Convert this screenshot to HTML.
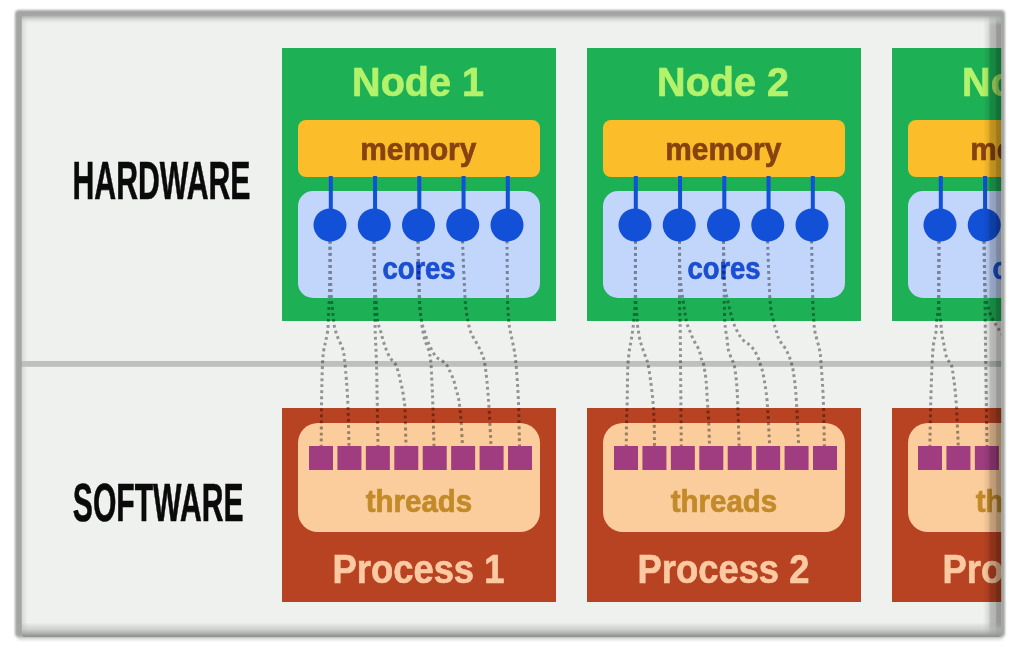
<!DOCTYPE html><html><head><meta charset="utf-8"><style>
html,body{margin:0;padding:0;background:#fff;width:1024px;height:654px;overflow:hidden}
svg{display:block;position:absolute;left:0;top:0}
text{font-family:"Liberation Sans",sans-serif;font-weight:bold}
</style></head><body>
<svg width="1024" height="654" viewBox="0 0 1024 654">
<defs><clipPath id="fc"><rect x="21.8" y="15" width="979.4" height="622" rx="3"/></clipPath>
<linearGradient id="rsh" x1="0" x2="1" y1="0" y2="0"><stop offset="0" stop-color="#000" stop-opacity="0"/><stop offset="0.3" stop-color="#000" stop-opacity="0.10"/><stop offset="0.4" stop-color="#000" stop-opacity="0.22"/><stop offset="0.68" stop-color="#000" stop-opacity="0.26"/><stop offset="0.74" stop-color="#000" stop-opacity="0.36"/><stop offset="1" stop-color="#000" stop-opacity="0.38"/></linearGradient>
<linearGradient id="tsh" x1="0" x2="0" y1="0" y2="1"><stop offset="0" stop-color="#a0a2a0"/><stop offset="1" stop-color="#eff1ee" stop-opacity="0"/></linearGradient><linearGradient id="lsh" x1="0" x2="1" y1="0" y2="0"><stop offset="0" stop-color="#d8dad8"/><stop offset="0.4" stop-color="#e2e4e2"/><stop offset="1" stop-color="#eff1ee" stop-opacity="0"/></linearGradient>
<linearGradient id="bsh" x1="0" x2="0" y1="0" y2="1"><stop offset="0" stop-color="#a8aaa8" stop-opacity="0"/><stop offset="0.45" stop-color="#b8bab8" stop-opacity="0.55"/><stop offset="0.92" stop-color="#949694"/><stop offset="1" stop-color="#8e908e"/></linearGradient>
</defs>
<filter id="bl" x="-5%" y="-5%" width="110%" height="110%"><feGaussianBlur stdDeviation="1.0"/></filter><filter id="bl2" x="-5%" y="-100%" width="110%" height="300%"><feGaussianBlur stdDeviation="1.5"/></filter>
<rect x="17" y="634" width="986" height="6" rx="3" fill="#d8dad8" filter="url(#bl2)"/>
<rect x="15" y="10" width="990" height="627" rx="4" fill="#a3a5a3" filter="url(#bl)"/>
<g clip-path="url(#fc)">
<rect x="15" y="10" width="990" height="627" fill="#eff1ee"/>
<rect x="21.8" y="10" width="7" height="627" fill="url(#lsh)"/>
<rect x="15" y="361" width="990" height="5.8" fill="#bec0bd"/>
<text x="72.5" y="199.4" font-size="54" textLength="178" lengthAdjust="spacingAndGlyphs" fill="#0a0a0a" stroke="#0a0a0a" stroke-width="0.6">HARDWARE</text>
<text x="72.8" y="520.6" font-size="54" textLength="170.7" lengthAdjust="spacingAndGlyphs" fill="#0a0a0a" stroke="#0a0a0a" stroke-width="0.6">SOFTWARE</text>
<rect x="282" y="48" width="274" height="273" fill="#1eb055"/>
<text x="418" y="96.4" font-size="41" textLength="131.8" lengthAdjust="spacingAndGlyphs" text-anchor="middle" fill="#b3f26a" stroke="#b3f26a" stroke-width="0.7">Node 1</text>
<rect x="298" y="120" width="242" height="57" rx="8" fill="#fbbe2a"/>
<text x="418.3" y="159.9" font-size="32" textLength="116.0" lengthAdjust="spacingAndGlyphs" text-anchor="middle" fill="#874212" stroke="#874212" stroke-width="0.7">memory</text>
<rect x="298" y="191" width="242" height="107" rx="15" fill="#c2d5fb"/>
<text x="419" y="278.7" font-size="31" textLength="73.2" lengthAdjust="spacingAndGlyphs" text-anchor="middle" fill="#1a4fd2" stroke="#1a4fd2" stroke-width="0.7">cores</text>
<rect x="328.80" y="176" width="4" height="36" fill="#1250d8"/>
<circle cx="330.00" cy="225" r="16.5" fill="#1250d8"/>
<rect x="373.05" y="176" width="4" height="36" fill="#1250d8"/>
<circle cx="374.25" cy="225" r="16.5" fill="#1250d8"/>
<rect x="417.30" y="176" width="4" height="36" fill="#1250d8"/>
<circle cx="418.50" cy="225" r="16.5" fill="#1250d8"/>
<rect x="461.55" y="176" width="4" height="36" fill="#1250d8"/>
<circle cx="462.75" cy="225" r="16.5" fill="#1250d8"/>
<rect x="505.80" y="176" width="4" height="36" fill="#1250d8"/>
<circle cx="507.00" cy="225" r="16.5" fill="#1250d8"/>
<rect x="282" y="408" width="274" height="194" fill="#b84322"/>
<rect x="298" y="423" width="242" height="109" rx="20" fill="#fbcd9d"/>
<text x="419" y="512.4" font-size="31" textLength="106.4" lengthAdjust="spacingAndGlyphs" text-anchor="middle" fill="#c28a28" stroke="#c28a28" stroke-width="0.7">threads</text>
<text x="418.5" y="583" font-size="41" textLength="171.8" lengthAdjust="spacingAndGlyphs" text-anchor="middle" fill="#fbcaa2" stroke="#fbcaa2" stroke-width="0.7">Process 1</text>
<rect x="587" y="48" width="274" height="273" fill="#1eb055"/>
<text x="723" y="96.4" font-size="41" textLength="131.8" lengthAdjust="spacingAndGlyphs" text-anchor="middle" fill="#b3f26a" stroke="#b3f26a" stroke-width="0.7">Node 2</text>
<rect x="603" y="120" width="242" height="57" rx="8" fill="#fbbe2a"/>
<text x="723.3" y="159.9" font-size="32" textLength="116.0" lengthAdjust="spacingAndGlyphs" text-anchor="middle" fill="#874212" stroke="#874212" stroke-width="0.7">memory</text>
<rect x="603" y="191" width="242" height="107" rx="15" fill="#c2d5fb"/>
<text x="724" y="278.7" font-size="31" textLength="73.2" lengthAdjust="spacingAndGlyphs" text-anchor="middle" fill="#1a4fd2" stroke="#1a4fd2" stroke-width="0.7">cores</text>
<rect x="633.80" y="176" width="4" height="36" fill="#1250d8"/>
<circle cx="635.00" cy="225" r="16.5" fill="#1250d8"/>
<rect x="678.05" y="176" width="4" height="36" fill="#1250d8"/>
<circle cx="679.25" cy="225" r="16.5" fill="#1250d8"/>
<rect x="722.30" y="176" width="4" height="36" fill="#1250d8"/>
<circle cx="723.50" cy="225" r="16.5" fill="#1250d8"/>
<rect x="766.55" y="176" width="4" height="36" fill="#1250d8"/>
<circle cx="767.75" cy="225" r="16.5" fill="#1250d8"/>
<rect x="810.80" y="176" width="4" height="36" fill="#1250d8"/>
<circle cx="812.00" cy="225" r="16.5" fill="#1250d8"/>
<rect x="587" y="408" width="274" height="194" fill="#b84322"/>
<rect x="603" y="423" width="242" height="109" rx="20" fill="#fbcd9d"/>
<text x="724" y="512.4" font-size="31" textLength="106.4" lengthAdjust="spacingAndGlyphs" text-anchor="middle" fill="#c28a28" stroke="#c28a28" stroke-width="0.7">threads</text>
<text x="723.5" y="583" font-size="41" textLength="171.8" lengthAdjust="spacingAndGlyphs" text-anchor="middle" fill="#fbcaa2" stroke="#fbcaa2" stroke-width="0.7">Process 2</text>
<rect x="892" y="48" width="274" height="273" fill="#1eb055"/>
<text x="1028" y="96.4" font-size="41" textLength="131.8" lengthAdjust="spacingAndGlyphs" text-anchor="middle" fill="#b3f26a" stroke="#b3f26a" stroke-width="0.7">Node 3</text>
<rect x="908" y="120" width="242" height="57" rx="8" fill="#fbbe2a"/>
<text x="1028.3" y="159.9" font-size="32" textLength="116.0" lengthAdjust="spacingAndGlyphs" text-anchor="middle" fill="#874212" stroke="#874212" stroke-width="0.7">memory</text>
<rect x="908" y="191" width="242" height="107" rx="15" fill="#c2d5fb"/>
<text x="1029" y="278.7" font-size="31" textLength="73.2" lengthAdjust="spacingAndGlyphs" text-anchor="middle" fill="#1a4fd2" stroke="#1a4fd2" stroke-width="0.7">cores</text>
<rect x="938.80" y="176" width="4" height="36" fill="#1250d8"/>
<circle cx="940.00" cy="225" r="16.5" fill="#1250d8"/>
<rect x="983.05" y="176" width="4" height="36" fill="#1250d8"/>
<circle cx="984.25" cy="225" r="16.5" fill="#1250d8"/>
<rect x="1027.30" y="176" width="4" height="36" fill="#1250d8"/>
<circle cx="1028.50" cy="225" r="16.5" fill="#1250d8"/>
<rect x="1071.55" y="176" width="4" height="36" fill="#1250d8"/>
<circle cx="1072.75" cy="225" r="16.5" fill="#1250d8"/>
<rect x="1115.80" y="176" width="4" height="36" fill="#1250d8"/>
<circle cx="1117.00" cy="225" r="16.5" fill="#1250d8"/>
<rect x="892" y="408" width="274" height="194" fill="#b84322"/>
<rect x="908" y="423" width="242" height="109" rx="20" fill="#fbcd9d"/>
<text x="1029" y="512.4" font-size="31" textLength="106.4" lengthAdjust="spacingAndGlyphs" text-anchor="middle" fill="#c28a28" stroke="#c28a28" stroke-width="0.7">threads</text>
<text x="1028.5" y="583" font-size="41" textLength="171.8" lengthAdjust="spacingAndGlyphs" text-anchor="middle" fill="#fbcaa2" stroke="#fbcaa2" stroke-width="0.7">Process 3</text>
<g fill="none" stroke="#9c9c9c" stroke-width="3" stroke-dasharray="2.8 3.2" style="mix-blend-mode:multiply">
<path d="M330.0 241.0 C329.9 249.2 329.8 276.7 329.5 290.0 C329.2 303.3 328.6 314.0 328.3 321.0 C328.0 328.0 328.0 328.5 327.5 332.0 C327.0 335.5 326.1 339.0 325.5 342.0 C324.9 345.0 324.3 346.3 323.8 350.0 C323.3 353.7 322.9 355.7 322.5 364.0 C322.1 372.3 321.8 386.3 321.6 400.0 C321.4 413.7 321.3 438.3 321.2 446.0"/>
<path d="M330.0 241.0 C330.2 249.2 330.4 276.7 331.0 290.0 C331.6 303.3 333.0 314.3 333.7 321.0 C334.4 327.7 334.6 327.2 335.3 330.0 C336.0 332.8 336.7 334.7 338.0 338.0 C339.3 341.3 341.8 345.7 343.0 350.0 C344.2 354.3 344.2 355.7 345.0 364.0 C345.8 372.3 347.0 386.3 347.7 400.0 C348.4 413.7 348.8 438.3 349.0 446.0"/>
<path d="M374.0 241.0 C374.1 249.2 374.3 276.7 374.5 290.0 C374.7 303.3 374.9 313.5 375.0 321.0 C375.1 328.5 375.1 327.8 375.3 335.0 C375.6 342.2 376.2 353.2 376.5 364.0 C376.8 374.8 376.9 386.3 377.2 400.0 C377.4 413.7 377.9 438.3 378.0 446.0"/>
<path d="M374.0 241.0 C374.1 245.8 374.2 260.2 374.5 270.0 C374.8 279.8 375.5 291.5 376.0 300.0 C376.5 308.5 376.9 316.0 377.6 321.0 C378.3 326.0 379.4 326.8 380.3 330.0 C381.2 333.2 382.0 336.7 383.0 340.0 C384.0 343.3 385.2 347.0 386.4 350.0 C387.6 353.0 388.7 355.7 390.2 358.0 C391.7 360.3 393.9 361.7 395.3 364.0 C396.7 366.3 397.5 369.3 398.3 372.0 C399.1 374.7 399.5 377.0 400.2 380.0 C400.9 383.0 401.9 386.7 402.5 390.0 C403.1 393.3 403.6 396.7 404.0 400.0 C404.4 403.3 404.7 402.3 405.0 410.0 C405.3 417.7 405.8 440.0 406.0 446.0"/>
<path d="M418.0 241.0 C418.2 250.8 418.9 286.7 419.5 300.0 C420.1 313.3 421.0 316.0 421.5 321.0 C422.0 326.0 422.0 326.8 422.6 330.0 C423.2 333.2 423.9 336.7 424.9 340.0 C425.9 343.3 427.8 347.2 428.7 350.0 C429.6 352.8 429.8 354.7 430.2 357.0 C430.6 359.3 430.7 360.2 431.0 364.0 C431.3 367.8 431.5 374.0 431.8 380.0 C432.1 386.0 432.3 389.0 432.7 400.0 C433.1 411.0 433.8 438.3 434.0 446.0"/>
<path d="M418.0 241.0 C418.2 250.8 418.9 286.7 419.5 300.0 C420.1 313.3 420.7 316.0 421.5 321.0 C422.3 326.0 423.2 326.8 424.1 330.0 C425.1 333.2 425.9 336.7 427.2 340.0 C428.5 343.3 430.3 347.2 431.8 350.0 C433.3 352.8 434.8 355.3 436.3 357.0 C437.8 358.7 439.4 358.8 441.0 360.0 C442.6 361.2 444.6 362.3 446.0 364.0 C447.4 365.7 448.0 367.3 449.3 370.0 C450.6 372.7 452.5 376.7 453.6 380.0 C454.8 383.3 455.3 386.7 456.2 390.0 C457.1 393.3 458.0 395.0 458.8 400.0 C459.6 405.0 460.4 412.3 461.0 420.0 C461.6 427.7 462.2 441.7 462.5 446.0"/>
<path d="M462.5 241.0 C462.9 250.8 464.3 286.7 465.2 300.0 C466.1 313.3 467.2 316.0 468.0 321.0 C468.8 326.0 469.4 327.7 470.1 330.0 C470.8 332.3 470.3 331.7 472.0 335.0 C473.7 338.3 478.1 345.2 480.2 350.0 C482.3 354.8 483.4 355.7 484.8 364.0 C486.2 372.3 487.5 386.3 488.5 400.0 C489.5 413.7 490.6 438.3 491.0 446.0"/>
<path d="M507.0 241.0 C507.1 250.8 507.3 286.7 507.6 300.0 C507.9 313.3 508.4 316.0 508.8 321.0 C509.2 326.0 509.1 325.2 510.0 330.0 C510.9 334.8 513.2 344.3 514.2 350.0 C515.2 355.7 515.3 355.7 516.0 364.0 C516.7 372.3 517.8 386.3 518.4 400.0 C519.0 413.7 519.3 438.3 519.5 446.0"/>
<path d="M635.5 241.0 C635.5 250.8 635.5 286.7 635.2 300.0 C634.9 313.3 634.1 316.0 633.7 321.0 C633.3 326.0 633.1 326.8 632.7 330.0 C632.3 333.2 631.8 336.7 631.2 340.0 C630.7 343.3 629.9 346.0 629.4 350.0 C628.9 354.0 628.3 359.0 628.0 364.0 C627.7 369.0 627.6 374.0 627.5 380.0 C627.4 386.0 627.4 393.3 627.2 400.0 C627.1 406.7 626.8 412.3 626.6 420.0 C626.4 427.7 626.3 441.7 626.2 446.0"/>
<path d="M635.5 241.0 C635.5 249.2 635.2 276.7 635.5 290.0 C635.8 303.3 636.8 314.3 637.2 321.0 C637.7 327.7 637.7 326.8 638.2 330.0 C638.7 333.2 639.2 336.7 640.0 340.0 C640.8 343.3 642.0 346.7 643.1 350.0 C644.2 353.3 646.0 357.7 646.8 360.0 C647.6 362.3 647.4 360.7 648.0 364.0 C648.6 367.3 649.7 374.0 650.5 380.0 C651.3 386.0 652.2 393.3 652.8 400.0 C653.4 406.7 653.8 412.3 654.1 420.0 C654.4 427.7 654.4 441.7 654.5 446.0"/>
<path d="M679.5 241.0 C679.5 250.8 679.4 286.7 679.5 300.0 C679.6 313.3 679.9 315.2 680.0 321.0 C680.1 326.8 680.1 314.2 680.3 335.0 C680.5 355.8 681.1 427.5 681.3 446.0"/>
<path d="M679.5 241.0 C679.6 246.7 679.4 265.2 680.0 275.0 C680.6 284.8 681.9 292.3 683.0 300.0 C684.1 307.7 685.3 316.0 686.4 321.0 C687.5 326.0 688.2 326.8 689.4 330.0 C690.6 333.2 692.0 336.7 693.6 340.0 C695.2 343.3 697.6 346.7 699.0 350.0 C700.4 353.3 701.0 357.7 701.8 360.0 C702.5 362.3 702.8 360.7 703.5 364.0 C704.2 367.3 705.4 374.0 706.0 380.0 C706.6 386.0 706.9 393.3 707.3 400.0 C707.7 406.7 708.2 412.3 708.6 420.0 C709.0 427.7 709.4 441.7 709.5 446.0"/>
<path d="M723.5 241.0 C723.6 247.5 724.1 270.2 724.2 280.0 C724.3 289.8 724.1 293.2 724.2 300.0 C724.3 306.8 724.5 316.0 724.8 321.0 C725.0 326.0 725.3 326.8 725.7 330.0 C726.1 333.2 726.8 336.7 727.2 340.0 C727.7 343.3 727.6 346.7 728.4 350.0 C729.2 353.3 731.2 357.7 732.1 360.0 C733.0 362.3 733.3 360.7 734.0 364.0 C734.7 367.3 735.7 374.0 736.3 380.0 C736.9 386.0 737.1 389.0 737.6 400.0 C738.1 411.0 738.9 438.3 739.1 446.0"/>
<path d="M723.5 241.0 C723.6 247.5 723.5 270.2 724.2 280.0 C724.9 289.8 726.0 293.2 727.5 300.0 C729.0 306.8 731.2 315.7 732.9 321.0 C734.6 326.3 735.9 328.8 737.6 332.0 C739.3 335.2 741.1 337.8 743.1 340.0 C745.1 342.2 747.7 343.3 749.5 345.0 C751.3 346.7 752.7 348.0 754.1 350.0 C755.5 352.0 756.8 354.7 757.8 357.0 C758.8 359.3 759.3 361.0 760.2 364.0 C761.1 367.0 762.2 369.0 763.3 375.0 C764.4 381.0 765.9 388.2 767.0 400.0 C768.1 411.8 769.2 438.3 769.7 446.0"/>
<path d="M767.6 241.0 C768.0 250.8 769.0 286.7 770.0 300.0 C771.0 313.3 772.2 315.5 773.4 321.0 C774.6 326.5 776.0 329.8 777.0 333.0 C778.0 336.2 777.8 337.2 779.3 340.0 C780.8 342.8 784.1 346.0 786.2 350.0 C788.3 354.0 790.3 359.0 791.7 364.0 C793.1 369.0 793.7 374.0 794.5 380.0 C795.3 386.0 795.6 389.0 796.3 400.0 C797.0 411.0 798.3 438.3 798.7 446.0"/>
<path d="M811.6 241.0 C811.8 250.8 812.4 286.7 812.8 300.0 C813.2 313.3 813.5 315.5 813.9 321.0 C814.3 326.5 814.2 328.2 815.2 333.0 C816.2 337.8 818.6 344.8 819.6 350.0 C820.6 355.2 820.5 355.7 821.1 364.0 C821.7 372.3 822.8 386.3 823.3 400.0 C823.8 413.7 824.2 438.3 824.4 446.0"/>
<path d="M939.0 241.0 C939.0 250.8 939.1 286.7 938.7 300.0 C938.3 313.3 937.2 315.5 936.7 321.0 C936.2 326.5 936.3 329.0 935.8 333.0 C935.2 337.0 934.0 339.8 933.4 345.0 C932.8 350.2 932.5 354.8 932.1 364.0 C931.7 373.2 931.2 386.3 930.8 400.0 C930.4 413.7 930.0 438.3 929.9 446.0"/>
<path d="M939.0 241.0 C939.0 250.8 938.4 286.7 938.7 300.0 C939.0 313.3 940.2 315.5 940.7 321.0 C941.2 326.5 941.2 329.0 941.8 333.0 C942.3 337.0 943.2 340.8 944.0 345.0 C944.8 349.2 945.6 354.8 946.8 358.0 C948.0 361.2 949.9 361.2 951.0 364.0 C952.1 366.8 952.4 369.0 953.2 375.0 C954.0 381.0 955.1 388.2 956.0 400.0 C956.9 411.8 957.9 438.3 958.3 446.0"/>
<path d="M984.0 241.0 C984.2 249.2 984.8 275.2 985.0 290.0 C985.2 304.8 985.0 308.3 985.3 330.0 C985.6 351.7 986.3 400.7 986.6 420.0 C986.9 439.3 986.9 441.7 987.0 446.0"/>
<path d="M984.0 241.0 C984.2 249.2 984.2 278.5 985.0 290.0 C985.8 301.5 987.7 305.0 989.0 310.0 C990.3 315.0 991.5 317.0 993.0 320.0 C994.5 323.0 996.0 324.7 998.0 328.0 C1000.0 331.3 1002.7 334.0 1005.0 340.0 C1007.3 346.0 1010.8 360.0 1012.0 364.0"/>
</g>
<rect x="309.00" y="446" width="24" height="24" fill="#a03d80"/>
<rect x="337.43" y="446" width="24" height="24" fill="#a03d80"/>
<rect x="365.86" y="446" width="24" height="24" fill="#a03d80"/>
<rect x="394.29" y="446" width="24" height="24" fill="#a03d80"/>
<rect x="422.72" y="446" width="24" height="24" fill="#a03d80"/>
<rect x="451.15" y="446" width="24" height="24" fill="#a03d80"/>
<rect x="479.58" y="446" width="24" height="24" fill="#a03d80"/>
<rect x="508.01" y="446" width="24" height="24" fill="#a03d80"/>
<rect x="614.00" y="446" width="24" height="24" fill="#a03d80"/>
<rect x="642.43" y="446" width="24" height="24" fill="#a03d80"/>
<rect x="670.86" y="446" width="24" height="24" fill="#a03d80"/>
<rect x="699.29" y="446" width="24" height="24" fill="#a03d80"/>
<rect x="727.72" y="446" width="24" height="24" fill="#a03d80"/>
<rect x="756.15" y="446" width="24" height="24" fill="#a03d80"/>
<rect x="784.58" y="446" width="24" height="24" fill="#a03d80"/>
<rect x="813.01" y="446" width="24" height="24" fill="#a03d80"/>
<rect x="918.00" y="446" width="24" height="24" fill="#a03d80"/>
<rect x="946.43" y="446" width="24" height="24" fill="#a03d80"/>
<rect x="974.86" y="446" width="24" height="24" fill="#a03d80"/>
<rect x="1003.29" y="446" width="24" height="24" fill="#a03d80"/>
<rect x="1031.72" y="446" width="24" height="24" fill="#a03d80"/>
<rect x="1060.15" y="446" width="24" height="24" fill="#a03d80"/>
<rect x="1088.58" y="446" width="24" height="24" fill="#a03d80"/>
<rect x="1117.01" y="446" width="24" height="24" fill="#a03d80"/>
<rect x="983" y="10" width="18.5" height="627" fill="url(#rsh)"/>
<rect x="15" y="15" width="990" height="10" fill="url(#tsh)"/>
<rect x="15" y="622.5" width="990" height="14.5" fill="url(#bsh)"/>
</g>
</svg></body></html>
